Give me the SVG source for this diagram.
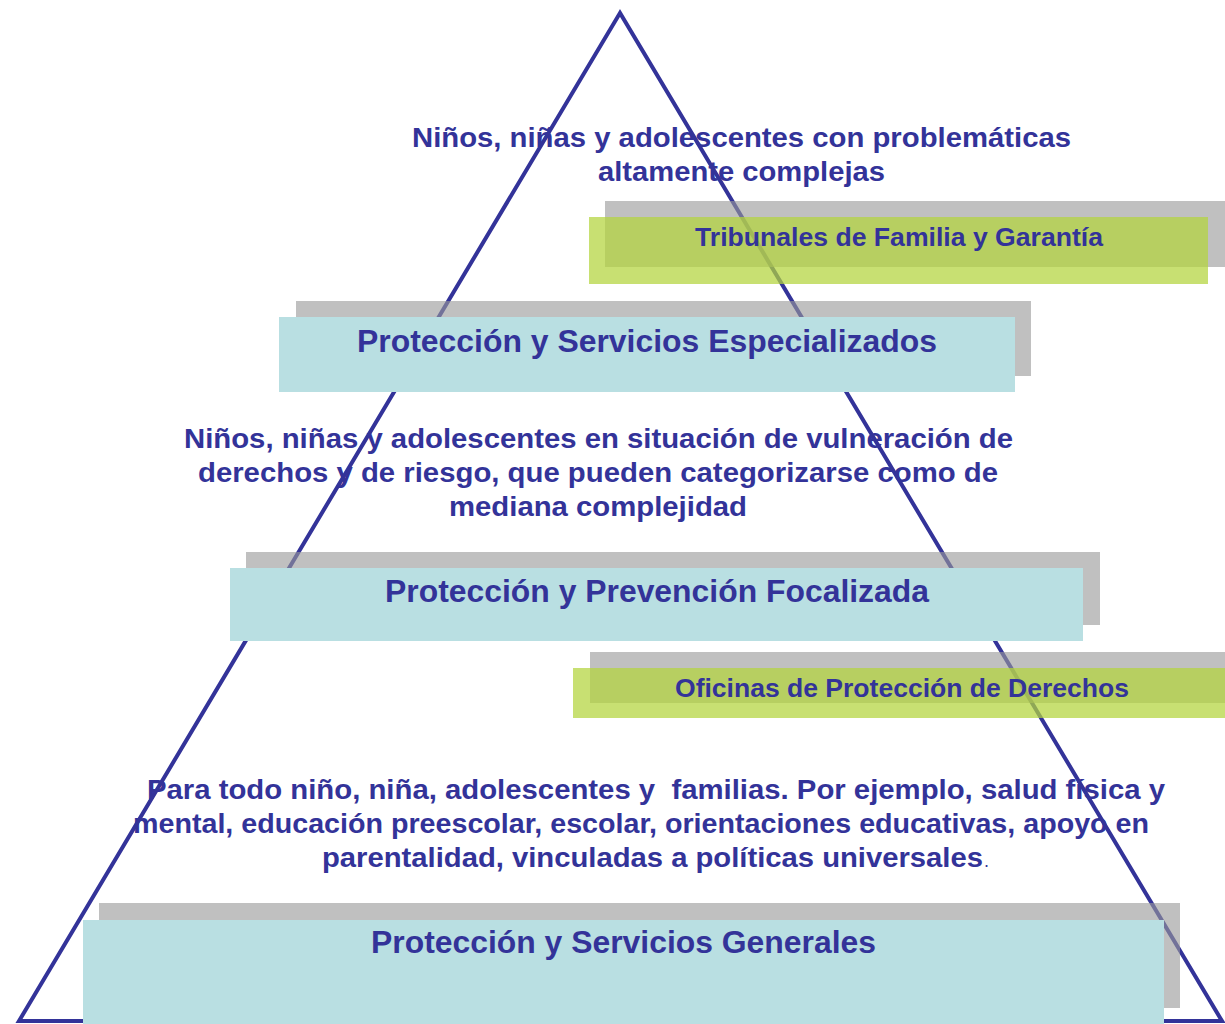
<svg xmlns="http://www.w3.org/2000/svg" width="1225" height="1024" viewBox="0 0 1225 1024">
<style>
.tri{fill:none;stroke:#333399;stroke-width:4;stroke-linejoin:miter}
.sh{fill:#9a9a9a;fill-opacity:0.62}
.cy{fill:#b9dfe2}
.gr{fill:#b3d43c;fill-opacity:0.72}
text{font-family:"Liberation Sans",Arial,sans-serif;font-weight:bold;fill:#333399}
.h{font-size:31px}
.b{font-size:28px}
.g{font-size:25.5px}
</style>
<rect width="1225" height="1024" fill="#ffffff"/>
<g id="pyramid">
<polygon class="tri" points="620,13 19,1021 1222,1021"/>
</g>
<g id="connectors"></g>
<g id="top-text">
<text class="b" x="412" y="147" textLength="659" lengthAdjust="spacingAndGlyphs">Niños, niñas y adolescentes con problemáticas</text>
<text class="b" x="598" y="181" textLength="287" lengthAdjust="spacingAndGlyphs">altamente complejas</text>
</g>
<g id="tribunales">
<rect class="sh" x="605" y="201" width="620" height="66"/>
<rect class="gr" x="589" y="217" width="619" height="67"/>
<text class="g" x="695" y="246" textLength="408" lengthAdjust="spacingAndGlyphs">Tribunales de Familia y Garantía</text>
</g>
<g id="especializados">
<rect class="sh" x="296" y="301" width="735" height="75"/>
<rect class="cy" x="279" y="317" width="736" height="75"/>
<text class="h" x="357" y="352" textLength="580" lengthAdjust="spacingAndGlyphs">Protección y Servicios Especializados</text>
</g>
<g id="mid-text">
<text class="b" x="184" y="448" textLength="829" lengthAdjust="spacingAndGlyphs">Niños, niñas y adolescentes en situación de vulneración de</text>
<text class="b" x="198" y="482" textLength="800" lengthAdjust="spacingAndGlyphs">derechos y de riesgo, que pueden categorizarse como de</text>
<text class="b" x="449" y="516" textLength="298" lengthAdjust="spacingAndGlyphs">mediana complejidad</text>
</g>
<g id="focalizada">
<rect class="sh" x="246" y="552" width="854" height="73"/>
<rect class="cy" x="230" y="568" width="853" height="73"/>
<text class="h" x="385" y="602" textLength="544" lengthAdjust="spacingAndGlyphs">Protección y Prevención Focalizada</text>
</g>
<g id="oficinas">
<rect class="sh" x="590" y="652" width="635" height="51"/>
<rect class="gr" x="573" y="668" width="652" height="50"/>
<text class="g" x="675" y="697" textLength="454" lengthAdjust="spacingAndGlyphs">Oficinas de Protección de Derechos</text>
</g>
<g id="bottom-text">
<text class="b" x="147" y="799" textLength="1018" lengthAdjust="spacingAndGlyphs">Para todo niño, niña, adolescentes y &#160;familias. Por ejemplo, salud física y</text>
<text class="b" x="133" y="833" textLength="1016" lengthAdjust="spacingAndGlyphs">mental, educación preescolar, escolar, orientaciones educativas, apoyo en</text>
<text class="b" x="322" y="867" textLength="661" lengthAdjust="spacingAndGlyphs">parentalidad, vinculadas a políticas universales</text>
<text x="984" y="867" style="font-weight:normal;font-size:18px">.</text>
</g>
<g id="generales">
<rect class="sh" x="99" y="903" width="1081" height="105"/>
<rect class="cy" x="83" y="920" width="1081" height="104"/>
<text class="h" x="371" y="953" textLength="505" lengthAdjust="spacingAndGlyphs">Protección y Servicios Generales</text>
</g>
</svg>
